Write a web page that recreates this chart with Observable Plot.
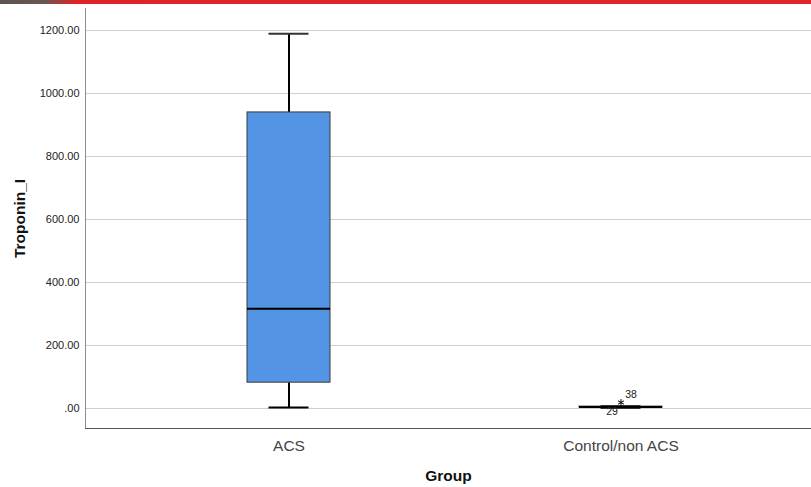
<!DOCTYPE html>
<html>
<head>
<meta charset="utf-8">
<script src="https://cdn.jsdelivr.net/npm/d3@7"></script>
<script src="https://cdn.jsdelivr.net/npm/@observablehq/plot@0.6"></script>
<style>
  html, body { margin: 0; padding: 0; background: #fff; }
  #bar { height: 4px; background: linear-gradient(to right, #5b5550 0px, #6a5550 45px, #df2428 75px, #e0262a 100%); }
  svg { display: block; font-family: "Liberation Sans", Arial, sans-serif; }
</style>
</head>
<body>
<div id="bar"></div>
<div id="chart"></div>
<script>
// Categories and five-number summaries
const groups = ["ACS", "Control/non ACS"];
const whiskerLow = [3, 2];
const q1 = [82, 3];
const median = [317, 5];
const q3 = [940, 6];
const whiskerHigh = [1190, 8];

// Outliers / extremes with case labels
const outlierGroup = ["Control/non ACS"];
const outlierValue = [19];
const outlierLabel = ["38"];
const extraLabelGroup = ["Control/non ACS"];
const extraLabelValue = [6];
const extraLabel = ["29"];

const yTicks = [0, 200, 400, 600, 800, 1000, 1200];
const yDomain = [-63.5, 1270];

const boxes = groups.map((g, i) => ({
  group: g, lo: whiskerLow[i], q1: q1[i], med: median[i], q3: q3[i], hi: whiskerHigh[i]
}));
const outliers = outlierGroup.map((g, i) => ({group: g, value: outlierValue[i], label: outlierLabel[i]}));
const extras = extraLabelGroup.map((g, i) => ({group: g, value: extraLabelValue[i], label: extraLabel[i]}));

const capInset = 21.5;

const chart = Plot.plot({
  width: 811,
  height: 483,
  marginTop: 4,
  marginBottom: 59,
  marginLeft: 85,
  marginRight: 0,
  x: {type: "band", domain: groups, range: [80.5, 827.5], paddingInner: 0.75, paddingOuter: 0.5},
  y: {domain: yDomain},
  style: {fontFamily: "Liberation Sans, Arial, sans-serif", background: "#fff"},
  marks: [
    Plot.gridY(yTicks, {stroke: "#cfcfcf", strokeOpacity: 1, strokeWidth: 1}),
    Plot.axisY(yTicks, {
      tickSize: 0, tickPadding: 6, fontSize: 11, fill: "#222", label: null,
      tickFormat: d => d === 0 ? ".00" : d.toFixed(2)
    }),
    Plot.axisX({tickSize: 0, tickPadding: 11, fontSize: 15.5, fill: "#444", label: null}),
    Plot.frame({anchor: "left", stroke: "#8c8c8c"}),
    Plot.frame({anchor: "bottom", stroke: "#555"}),
    // whiskers
    Plot.ruleX(boxes, {x: "group", y1: "lo", y2: "q1", stroke: "#000", strokeWidth: 2}),
    Plot.ruleX(boxes, {x: "group", y1: "q3", y2: "hi", stroke: "#000", strokeWidth: 2}),
    Plot.tickY(boxes, {x: "group", y: "lo", stroke: "#000", strokeWidth: 2, insetLeft: capInset, insetRight: capInset}),
    Plot.tickY(boxes, {x: "group", y: "hi", stroke: "#333", strokeWidth: 2, insetLeft: capInset, insetRight: capInset}),
    // boxes
    Plot.barY(boxes, {x: "group", y1: "q1", y2: "q3", fill: "#5394e4", stroke: "#3a3a3a", strokeWidth: 1}),
    Plot.tickY(boxes, {x: "group", y: "med", stroke: "#000", strokeWidth: 2}),
    // extremes
    Plot.dot(outliers, {x: "group", y: "value", symbol: "asterisk", r: 3.2, stroke: "#000", strokeWidth: 1}),
    Plot.text(outliers, {x: "group", y: "value", text: "label", dx: 10, dy: -8, fontSize: 10.5, fill: "#222"}),
    Plot.text(extras, {x: "group", y: "value", text: "label", dx: -9, dy: 5, fontSize: 10.5, fill: "#222"}),
    // axis titles
    Plot.text(["Group"], {frameAnchor: "bottom", lineAnchor: "middle", textAnchor: "middle", dy: 48, text: d => d, fontSize: 15.5, fontWeight: "bold", fill: "#111"}),
    Plot.text(["Troponin_I"], {frameAnchor: "left", lineAnchor: "middle", textAnchor: "middle", dx: -65, rotate: -90, text: d => d, fontSize: 15.5, fontWeight: "bold", fill: "#111"})
  ]
});
document.getElementById("chart").appendChild(chart);
</script>
</body>
</html>
